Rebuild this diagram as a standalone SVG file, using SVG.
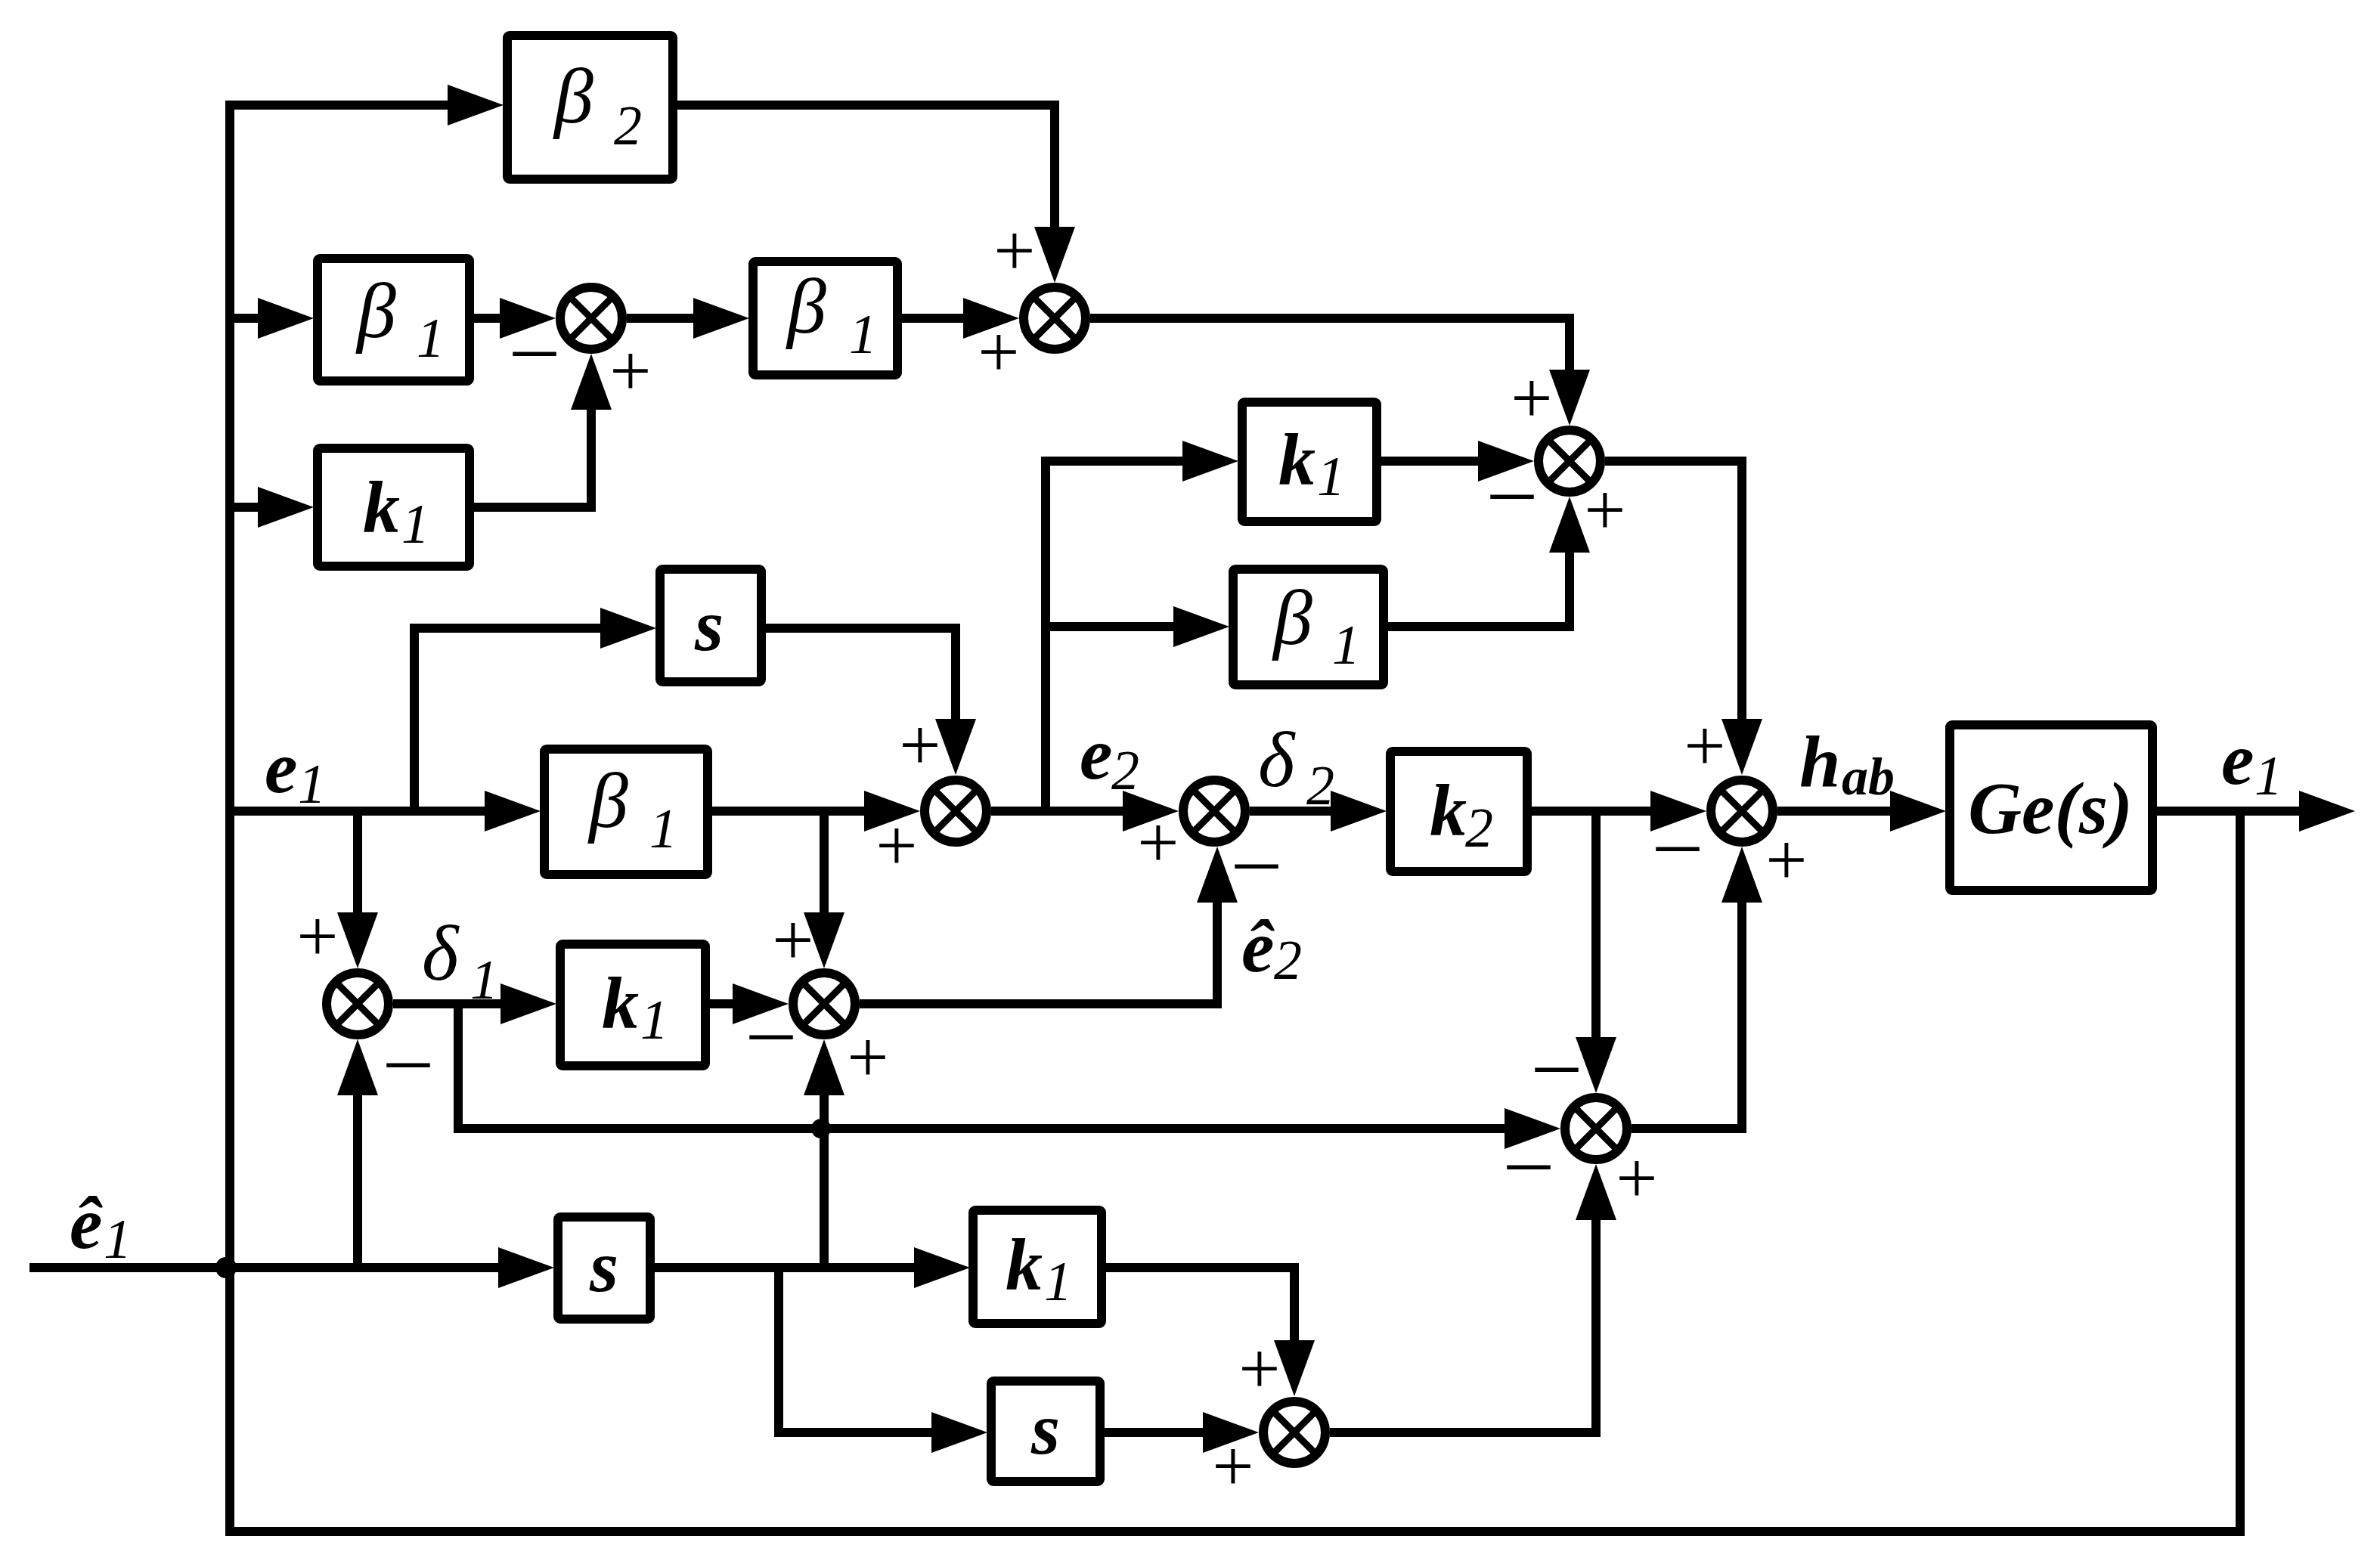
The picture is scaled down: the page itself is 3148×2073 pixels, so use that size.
<svg xmlns="http://www.w3.org/2000/svg" width="3148" height="2073" viewBox="0 0 3148 2073">
<style>
.w{fill:none;stroke:#000;stroke-width:12;stroke-linejoin:miter;marker-end:url(#ah)}
.box{fill:#fff;stroke:#000;stroke-width:12}
.sc{fill:#fff;stroke:#000;stroke-width:12}
.sx{fill:none;stroke:#000;stroke-width:9}
text{font-family:"Liberation Serif","Times New Roman",serif;fill:#000}
.bi{font-style:italic;font-weight:bold;font-size:98px}
.gr{font-style:italic;font-size:104px}
.sub{font-style:italic;font-size:74px}
.bsub{font-style:italic;font-weight:bold;font-size:70px}
.pl{font-size:98px;text-anchor:middle}
.mi{font-size:112px;text-anchor:middle}
.mid{text-anchor:middle}
</style>
<defs>
<marker id="ah" viewBox="0 0 74 54" refX="14" refY="27" markerWidth="74" markerHeight="54" markerUnits="userSpaceOnUse" orient="auto"><path d="M0,0 L74,27 L0,54 Z" fill="#000"/></marker>
<g id="x"><circle r="41" class="sc"/><path class="sx" d="M-26,-26 L26,26 M-26,26 L26,-26"/></g>
</defs>
<rect width="3148" height="2073" fill="#fff"/>
<g id="connectors">
<path class="w" d="M2963,1073 V2026 H304 V139 H606"/>
<path class="w" d="M304,421 H355"/>
<path class="w" d="M304,671 H355"/>
<path class="w" d="M626,421 H675"/>
<path class="w" d="M829,421 H931"/>
<path class="w" d="M1192,421 H1288"/>
<path class="w" d="M895,139 H1395 V314"/>
<path class="w" d="M626,671 H782 V528"/>
<path class="w" d="M1442,421 H2076 V503"/>
<path class="w" d="M304,1073 H655"/>
<path class="w" d="M548,1073 V831 H808"/>
<path class="w" d="M473,1073 V1221"/>
<path class="w" d="M1012,831 H1264 V965"/>
<path class="w" d="M941,1073 H1157"/>
<path class="w" d="M1090,1073 V1221"/>
<path class="w" d="M1311,1073 H1499"/>
<path class="w" d="M1383,1073 V610 H1578"/>
<path class="w" d="M1383,829 H1566"/>
<path class="w" d="M1826,610 H1969"/>
<path class="w" d="M1835,829 H2076 V717"/>
<path class="w" d="M2123,610 H2304 V965"/>
<path class="w" d="M1653,1073 H1774"/>
<path class="w" d="M2025,1073 H2197"/>
<path class="w" d="M2111,1073 V1386"/>
<path class="w" d="M2351,1073 H2514"/>
<path class="w" d="M2852,1073 H3055"/>
<path class="w" d="M520,1328 H676"/>
<path class="w" d="M606,1328 V1493 H2004"/>
<path class="w" d="M938,1328 H983"/>
<path class="w" d="M1137,1328 H1610 V1180"/>
<path class="w" d="M39,1677 H673"/>
<path class="w" d="M473,1677 V1435"/>
<path class="w" d="M865,1677 H1223"/>
<path class="w" d="M1090,1677 V1435"/>
<path class="w" d="M1030,1677 V1895 H1246"/>
<path class="w" d="M1460,1677 H1712 V1787"/>
<path class="w" d="M1460,1895 H1605"/>
<path class="w" d="M1759,1895 H2111 V1600"/>
<path class="w" d="M2158,1493 H2304 V1180"/>
<circle cx="299" cy="1677" r="14" fill="#000"/>
<circle cx="1086" cy="1493" r="13" fill="#000"/>
</g>
<g id="b2"><rect class="box" x="671" y="47" width="219" height="190" rx="3"/><text class="gr" x="733" y="162">β</text><text class="sub" x="812" y="191">2</text></g>
<g id="b1a"><rect class="box" x="420" y="342" width="201" height="162" rx="3"/><text class="gr" x="472" y="446">β</text><text class="sub" x="551" y="472">1</text></g>
<g id="b1b"><rect class="box" x="996" y="346" width="191" height="150" rx="3"/><text class="gr" x="1041" y="440">β</text><text class="sub" x="1123" y="467">1</text></g>
<g id="k1a"><rect class="box" x="420" y="593" width="201" height="156" rx="3"/><text class="bi" x="480" y="704">k</text><text class="sub" x="531" y="718">1</text></g>
<g id="sa"><rect class="box" x="873" y="753" width="134" height="149" rx="3"/><text class="bi mid" x="938" y="860">s</text></g>
<g id="k1b"><rect class="box" x="1643" y="532" width="178" height="158" rx="3"/><text class="bi" x="1691" y="641">k</text><text class="sub" x="1742" y="655">1</text></g>
<g id="b1c"><rect class="box" x="1631" y="753" width="199" height="153" rx="3"/><text class="gr" x="1684" y="852">β</text><text class="sub" x="1762" y="878">1</text></g>
<g id="b1m"><rect class="box" x="720" y="991" width="216" height="166" rx="3"/><text class="gr" x="779" y="1094">β</text><text class="sub" x="859" y="1121">1</text></g>
<g id="k1m"><rect class="box" x="741" y="1249" width="192" height="161" rx="3"/><text class="bi" x="796" y="1360">k</text><text class="sub" x="847" y="1374">1</text></g>
<g id="sm"><rect class="box" x="738" y="1610" width="122" height="135" rx="3"/><text class="bi mid" x="799" y="1708">s</text></g>
<g id="k2"><rect class="box" x="1839" y="994" width="181" height="159" rx="3"/><text class="bi" x="1891" y="1105">k</text><text class="sub" x="1938" y="1120">2</text></g>
<g id="k1l"><rect class="box" x="1287" y="1601" width="170" height="150" rx="3"/><text class="bi" x="1330" y="1706">k</text><text class="sub" x="1381" y="1720">1</text></g>
<g id="sl"><rect class="box" x="1311" y="1827" width="144" height="133" rx="3"/><text class="bi mid" x="1383" y="1923">s</text></g>
<g id="ge"><rect class="box" x="2579" y="959" width="268" height="219" rx="3"/><text class="bi mid" x="2712" y="1102" font-size="100">Ge(s)</text></g>
<g id="s1"><use href="#x" x="782" y="421"/><text class="mi" x="707" y="494">–</text><text class="pl" x="834" y="523">+</text></g>
<g id="s2"><use href="#x" x="1395" y="421"/><text class="pl" x="1342" y="364">+</text><text class="pl" x="1321" y="498">+</text></g>
<g id="s3"><use href="#x" x="2076" y="610"/><text class="pl" x="2026" y="559">+</text><text class="mi" x="2000" y="683">–</text><text class="pl" x="2123" y="707">+</text></g>
<g id="s4"><use href="#x" x="1264" y="1073"/><text class="pl" x="1217" y="1018">+</text><text class="pl" x="1186" y="1151">+</text></g>
<g id="s5"><use href="#x" x="1606" y="1073"/><text class="pl" x="1532" y="1147">+</text><text class="mi" x="1662" y="1172">–</text></g>
<g id="s6"><use href="#x" x="473" y="1328"/><text class="pl" x="420" y="1271">+</text><text class="mi" x="540" y="1435">–</text></g>
<g id="s7"><use href="#x" x="1090" y="1328"/><text class="pl" x="1049" y="1276">+</text><text class="mi" x="1020" y="1398">–</text><text class="pl" x="1148" y="1431">+</text></g>
<g id="s8"><use href="#x" x="1712" y="1895"/><text class="pl" x="1666" y="1843">+</text><text class="pl" x="1631" y="1972">+</text></g>
<g id="s9"><use href="#x" x="2111" y="1493"/><text class="mi" x="2059" y="1441">–</text><text class="mi" x="2022" y="1570">–</text><text class="pl" x="2165" y="1591">+</text></g>
<g id="s10"><use href="#x" x="2304" y="1073"/><text class="pl" x="2255" y="1019">+</text><text class="mi" x="2219" y="1149">–</text><text class="pl" x="2363" y="1170">+</text></g>
<g id="labels">
<text class="bi" x="350" y="1048">e</text><text class="sub" x="394" y="1062">1</text>
<text class="bi" x="92" y="1651">ê</text><text class="sub" x="137" y="1664">1</text>
<text class="gr" x="558" y="1296">δ</text><text class="sub" x="622" y="1321">1</text>
<text class="bi" x="1428" y="1030">e</text><text class="sub" x="1470" y="1044">2</text>
<text class="gr" x="1664" y="1040">δ</text><text class="sub" x="1728" y="1064">2</text>
<text class="bi" x="1642" y="1285">ê</text><text class="sub" x="1685" y="1295">2</text>
<text class="bi" x="2380" y="1041">h</text><text class="bsub" x="2436" y="1051">ab</text>
<text class="bi" x="2938" y="1037">e</text><text class="sub" x="2982" y="1051">1</text>
</g>
</svg>
